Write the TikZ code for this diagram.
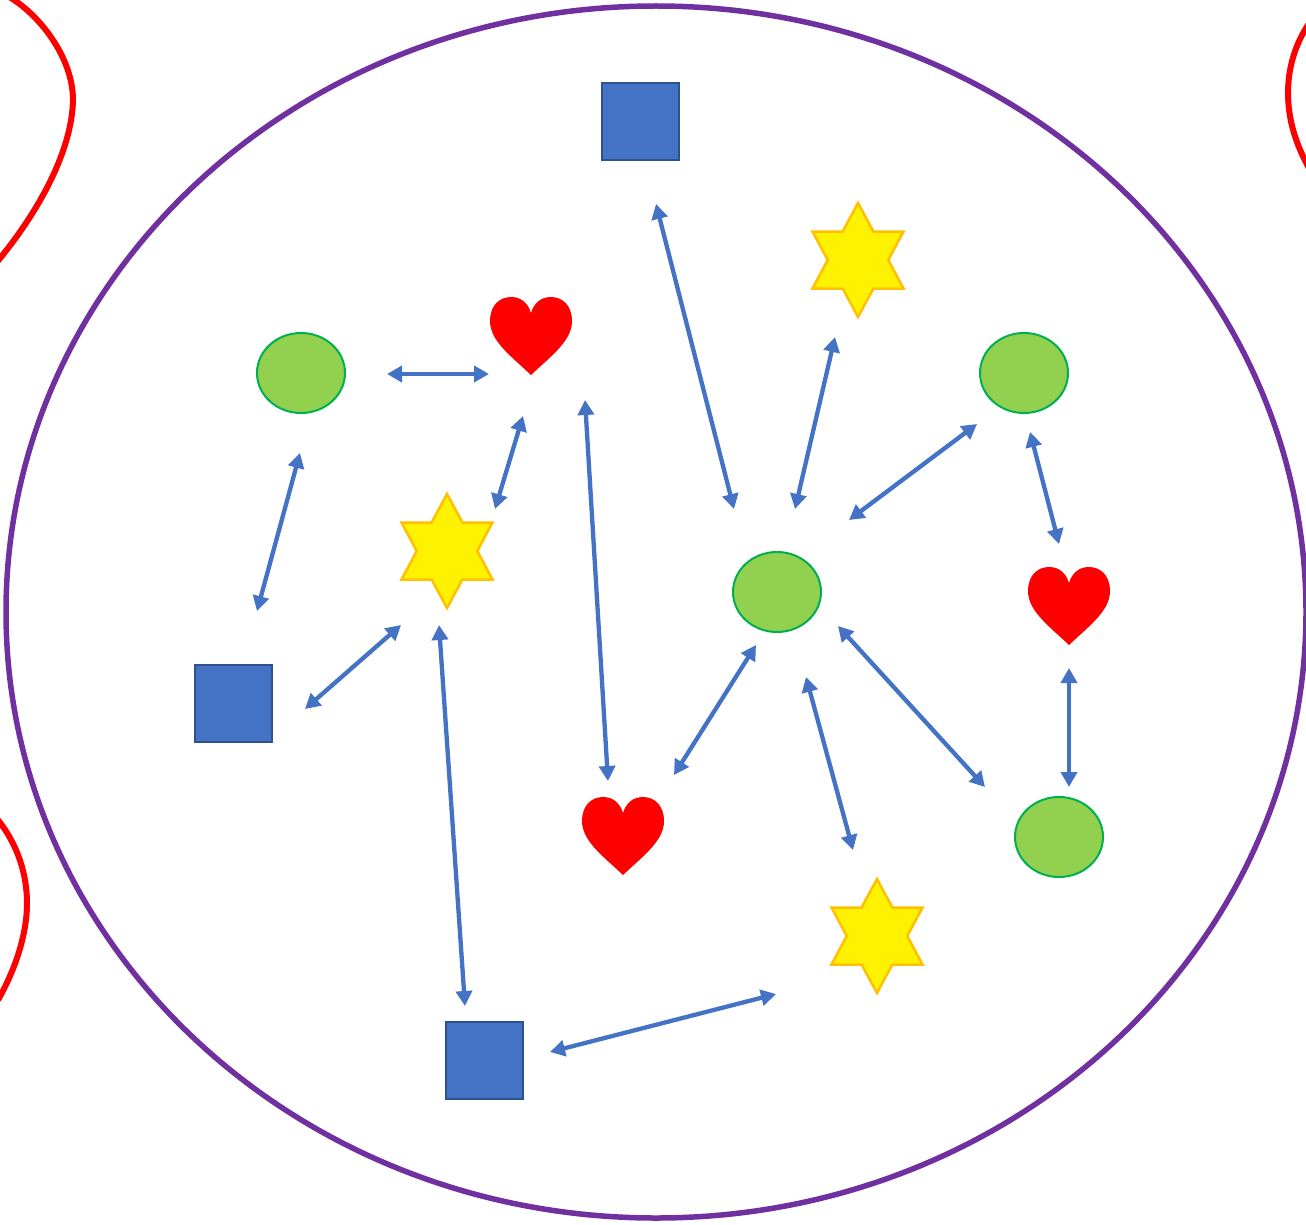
\documentclass[tikz,border=0pt]{standalone}
\usetikzlibrary{arrows.meta,shapes.geometric}
\definecolor{sqblue}{HTML}{4472C4}
\definecolor{sqedge}{HTML}{2F528F}
\definecolor{cgreen}{HTML}{92D050}
\definecolor{cedge}{HTML}{00B050}
\definecolor{sedge}{HTML}{FFC000}
\definecolor{ring}{HTML}{7030A0}
\tikzset{
  sq/.style={draw=sqedge,line width=2pt,fill=sqblue,minimum size=77pt,inner sep=0pt},
  circ/.style={ellipse,draw=cedge,line width=2pt,fill=cgreen,minimum width=88pt,minimum height=80pt,inner sep=0pt},
  conn/.style={draw=sqblue,line width=4.3pt,{Triangle[length=15pt,width=16pt]}-{Triangle[length=15pt,width=16pt]}},
  redline/.style={draw=red,line width=6pt},
  heartpic/.pic={
    \fill[red] (0,39) .. controls (-20,20) and (-41,5) .. (-41,-15)
      .. controls (-41,-31) and (-31,-39) .. (-20,-39)
      .. controls (-10,-39) and (-3,-33) .. (0,-23)
      .. controls (3,-33) and (10,-39) .. (20,-39)
      .. controls (31,-39) and (41,-31) .. (41,-15)
      .. controls (41,5) and (20,20) .. (0,39) -- cycle;
  },
  starpic/.pic={
    \draw[draw=sedge,line width=2.5pt,fill=yellow,line join=miter]
      (0,-57) -- (15.4,-28.5) -- (45.5,-28.5) -- (30.3,0) -- (45.5,28.5) -- (15.4,28.5)
      -- (0,57) -- (-15.4,28.5) -- (-45.5,28.5) -- (-30.3,0) -- (-45.5,-28.5) -- (-15.4,-28.5) -- cycle;
  }
}
\begin{document}
\begin{tikzpicture}[x=1pt,y=-1pt]
\clip (0,0) rectangle (1306,1225);
\fill[white] (0,0) rectangle (1306,1225);
% red partial curves at the edges
\draw[redline] (0,-8) .. controls (35,8) and (73,55) .. (73,100)
  .. controls (72,150) and (40,210) .. (-3,262);
\draw[redline] (-2,820) .. controls (18,845) and (27,875) .. (27,903)
  .. controls (27,935) and (15,970) .. (-2,1000);
\draw[redline] (1310,22) .. controls (1294,45) and (1288,70) .. (1288,93)
  .. controls (1288,120) and (1296,145) .. (1310,170);
% big purple ring
\draw[ring,line width=5.5pt] (656,612) ellipse [x radius=650, y radius=606];
% squares
\node[sq] (sq1) at (640,122) {};
\node[sq] (sq2) at (233,703) {};
\node[sq] (sq3) at (484,1060) {};
% circles
\node[circ] (c1) at (301,373) {};
\node[circ] (c2) at (1024,373) {};
\node[circ] (c3) at (777,592) {};
\node[circ] (c4) at (1059,837) {};
% hearts
\pic at (531,336) {heartpic};
\coordinate (h1) at (531,336);
\pic at (1069,606) {heartpic};
\coordinate (h2) at (1069,606);
\pic at (623,836) {heartpic};
\coordinate (h3) at (623,836);
% stars
\pic at (447,551) {starpic};
\coordinate (s1) at (447,551);
\pic at (858,260) {starpic};
\coordinate (s2) at (858,260);
\pic at (877,936) {starpic};
\coordinate (s3) at (877,936);
% connectors
\draw[conn] ([shift={(86,1)}]c1.center) -- ([shift={(-42,38)}]h1);
\draw[conn] ([shift={(-1,80)}]c1.center) -- ([shift={(24,-92)}]sq2.center);
\draw[conn] ([shift={(-8,80)}]h1) -- ([shift={(48,-42)}]s1);
\draw[conn] ([shift={(-46,74)}]s1) -- ([shift={(72,6)}]sq2.center);
\draw[conn] ([shift={(-8,74)}]s1) -- ([shift={(-19,-54)}]sq3.center);
\draw[conn] ([shift={(54,64)}]h1) -- ([shift={(-15,-55)}]h3);
\draw[conn] ([shift={(16,82)}]sq1.center) -- ([shift={(-43,-83)}]c3.center);
\draw[conn] ([shift={(-23,77)}]s2) -- ([shift={(18,-83)}]c3.center);
\draw[conn] ([shift={(-47,51)}]c2.center) -- ([shift={(72,-72)}]c3.center);
\draw[conn] ([shift={(6,59)}]c2.center) -- ([shift={(-10,-62)}]h2);
\draw[conn] ([shift={(0,62)}]h2) -- ([shift={(10,-50)}]c4.center);
\draw[conn] ([shift={(61,34)}]c3.center) -- ([shift={(-74,-50)}]c4.center);
\draw[conn] ([shift={(-21,53)}]c3.center) -- ([shift={(51,-61)}]h3);
\draw[conn] ([shift={(29,85)}]c3.center) -- ([shift={(-24,-86)}]s3);
\draw[conn] ([shift={(-101,58)}]s3) -- ([shift={(66,-8)}]sq3.center);
\end{tikzpicture}
\end{document}
